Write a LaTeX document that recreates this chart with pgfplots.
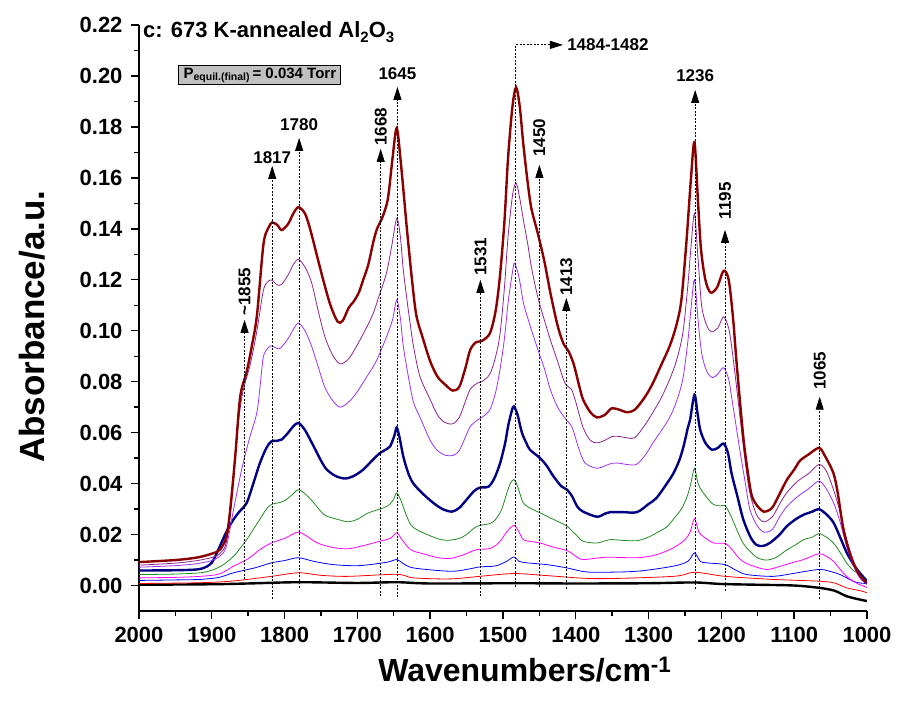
\documentclass[border=0pt]{standalone}
\usepackage{fontspec}
\setmainfont{Liberation Sans}
\usepackage{pgfplots}
\pgfplotsset{compat=1.18}
\usetikzlibrary{arrows.meta}
\definecolor{cDR}{HTML}{8B0000}
\definecolor{cPU}{HTML}{8E238E}
\definecolor{cVI}{HTML}{9B30FF}
\definecolor{cNV}{HTML}{000080}
\definecolor{cGR}{HTML}{228B22}
\definecolor{cMG}{HTML}{FF00FF}
\definecolor{cBL}{HTML}{0000FF}
\definecolor{cRD}{HTML}{FF0000}
\definecolor{boxgray}{HTML}{C0C0C0}

\tikzset{
  dotl/.style={black, line width=0.8bp, dash pattern=on 2bp off 1.5bp},
  arr/.style={dotl, -{Triangle[length=13bp,width=8bp]}},
  lab/.style={font=\bfseries\fontsize{17bp}{17bp}\selectfont, inner sep=0pt},
}
\newcommand{\lowsub}[1]{\raisebox{-0.45ex}{\fontsize{15bp}{15bp}\selectfont #1}}

\begin{document}
\begin{tikzpicture}
\useasboundingbox (-139bp,-98bp) rectangle (759bp,611bp);
\begin{axis}[
  at={(0,0)}, anchor=south west,
  scale only axis, width=728bp, height=586bp,
  x dir=reverse,
  xmin=1000, xmax=2000, ymin=-0.01, ymax=0.22,
  axis x line*=bottom, axis y line*=left,
  axis line style={line width=1.6bp, -},
  xtick={1000,1100,...,2000}, minor x tick num=1,
  ytick={0,0.02,...,0.22}, minor y tick num=1,
  tick align=outside,
  major tick length=8bp, minor tick length=5bp,
  tick style={line width=1.4bp, black},
  /pgf/number format/assume math mode=true,
  yticklabel style={xshift=-5bp, /pgf/number format/.cd, fixed, fixed zerofill, precision=2},
  xticklabel style={yshift=-5bp, /pgf/number format/.cd, set thousands separator={}},
  tick label style={font=\bfseries\fontsize{22bp}{22bp}\selectfont},
  xlabel={Wavenumbers/cm\textsuperscript{-1}},
  ylabel={Absorbance/a.u.},
  xlabel style={font=\bfseries\fontsize{32bp}{32bp}\selectfont, at={(axis description cs:0.53,-0.1007)}, anchor=center},
  ylabel style={font=\bfseries\fontsize{35bp}{35bp}\selectfont, at={(axis description cs:-0.147,0.485)}, anchor=center, rotate=0},
  clip mode=individual,
]
% black
\addplot[black, line width=2.4bp, smooth] coordinates {
(2000,0.0003) (1900,0.0005) (1850,0.0008) (1781,0.0013) (1700,0.001) (1646,0.0013) (1600,0.0008) (1485,0.0009) (1400,0.0008) (1300,0.0009) (1237,0.0012) (1200,0.0006) (1150,0.0003) (1100,0.0) (1066,-0.0009) (1045,-0.002) (1028,-0.0042) (1010,-0.0055) (1000,-0.0061)
};
% red
\addplot[cRD, line width=0.8bp, smooth] coordinates {
(2000,0.0008) (1916,0.0011) (1870,0.0018) (1818,0.0036) (1781,0.005) (1750,0.004) (1713,0.0036) (1646,0.0044) (1623,0.003) (1573,0.0026) (1532,0.0036) (1485,0.0047) (1440,0.0039) (1371,0.0027) (1266,0.0036) (1237,0.0052) (1195,0.0036) (1129,0.0024) (1066,0.0017) (1045,0.001) (1028,-0.0009) (1010,-0.002) (1000,-0.0028)
};
% blue
\addplot[cBL, line width=0.8bp, smooth] coordinates {
(2000,0.002) (1950,0.0022) (1916,0.0024) (1890,0.0032) (1870,0.005) (1840,0.007) (1818,0.0089) (1800,0.0098) (1781,0.0109) (1760,0.0095) (1733,0.0082) (1698,0.0078) (1660,0.0091) (1646,0.0102) (1638,0.0088) (1623,0.0069) (1573,0.0056) (1550,0.0063) (1532,0.0073) (1510,0.0077) (1495,0.0095) (1485,0.0112) (1478,0.0095) (1467,0.0089) (1440,0.0082) (1412,0.0069) (1390,0.0055) (1371,0.0052) (1316,0.0056) (1266,0.0076) (1246,0.0095) (1237,0.0128) (1229,0.0095) (1220,0.0089) (1195,0.0082) (1180,0.006) (1165,0.0043) (1129,0.0036) (1100,0.0048) (1066,0.0063) (1050,0.0055) (1037,0.0043) (1019,0.0017) (1010,0.001) (1000,0.0008)
};
% magenta
\addplot[cMG, line width=0.8bp, smooth] coordinates {
(2000,0.003) (1950,0.0032) (1916,0.0036) (1890,0.0045) (1870,0.0076) (1850,0.0105) (1834,0.0141) (1818,0.0167) (1800,0.0185) (1790,0.020) (1781,0.021) (1770,0.0195) (1755,0.0167) (1735,0.015) (1713,0.0144) (1690,0.0158) (1669,0.0174) (1655,0.0185) (1646,0.0207) (1640,0.0185) (1627,0.0141) (1610,0.0125) (1590,0.011) (1573,0.0106) (1555,0.012) (1536,0.0141) (1518,0.0145) (1505,0.017) (1495,0.021) (1485,0.0236) (1478,0.021) (1472,0.018) (1460,0.0172) (1449,0.0167) (1430,0.015) (1412,0.0137) (1400,0.0115) (1390,0.0102) (1358,0.0111) (1316,0.0109) (1290,0.012) (1266,0.0148) (1250,0.018) (1243,0.021) (1237,0.0262) (1231,0.021) (1225,0.0193) (1211,0.0167) (1195,0.0165) (1185,0.014) (1174,0.0102) (1160,0.008) (1138,0.0063) (1120,0.0075) (1100,0.0092) (1087,0.0102) (1066,0.0125) (1056,0.0115) (1046,0.0095) (1036,0.006) (1028,0.0036) (1015,0.001) (1000,-0.0008)
};
% green
\addplot[cGR, line width=0.8bp, smooth] coordinates {
(2000,0.0043) (1950,0.0045) (1916,0.005) (1900,0.006) (1885,0.008) (1870,0.0115) (1860,0.015) (1852,0.018) (1843,0.022) (1834,0.026) (1825,0.030) (1818,0.0318) (1802,0.033) (1790,0.0355) (1781,0.0376) (1770,0.0355) (1760,0.0325) (1750,0.029) (1742,0.0272) (1725,0.0258) (1713,0.025) (1700,0.026) (1685,0.0285) (1664,0.0305) (1655,0.032) (1650,0.034) (1646,0.0364) (1641,0.034) (1634,0.0285) (1627,0.024) (1619,0.022) (1600,0.0195) (1585,0.018) (1573,0.0178) (1560,0.0185) (1550,0.020) (1540,0.0225) (1532,0.0236) (1518,0.0243) (1510,0.026) (1502,0.0298) (1495,0.036) (1490,0.040) (1485,0.0416) (1480,0.039) (1472,0.0324) (1460,0.030) (1449,0.0285) (1431,0.026) (1420,0.0245) (1412,0.0233) (1400,0.020) (1390,0.0174) (1371,0.0167) (1353,0.018) (1335,0.0177) (1316,0.0176) (1300,0.019) (1289,0.0207) (1275,0.023) (1266,0.026) (1255,0.030) (1247,0.035) (1242,0.040) (1237,0.046) (1232,0.040) (1225,0.0364) (1211,0.0318) (1200,0.0313) (1195,0.0314) (1188,0.028) (1179,0.022) (1170,0.0165) (1161,0.0135) (1150,0.0108) (1138,0.010) (1125,0.011) (1110,0.014) (1098,0.016) (1087,0.018) (1075,0.019) (1066,0.0204) (1056,0.019) (1046,0.0167) (1037,0.013) (1028,0.0089) (1019,0.006) (1010,0.0043) (1000,0.0024)
};
% navy
\addplot[cNV, line width=2.4bp, smooth] coordinates {
(2000,0.0059) (1950,0.006) (1916,0.0065) (1900,0.009) (1889,0.0154) (1880,0.021) (1870,0.026) (1862,0.029) (1852,0.0325) (1843,0.040) (1834,0.048) (1825,0.054) (1818,0.0566) (1810,0.0568) (1804,0.0573) (1795,0.060) (1788,0.0625) (1781,0.0638) (1772,0.061) (1760,0.0546) (1750,0.049) (1742,0.0455) (1730,0.043) (1717,0.042) (1705,0.043) (1692,0.0455) (1680,0.049) (1669,0.052) (1660,0.0535) (1655,0.0546) (1649,0.059) (1646,0.062) (1642,0.058) (1637,0.0507) (1630,0.044) (1623,0.040) (1610,0.036) (1596,0.0325) (1583,0.030) (1570,0.029) (1560,0.0305) (1550,0.0337) (1540,0.037) (1532,0.0384) (1520,0.0388) (1512,0.042) (1504,0.048) (1497,0.056) (1493,0.0625) (1488,0.0685) (1485,0.0703) (1480,0.067) (1474,0.060) (1468,0.056) (1463,0.0533) (1449,0.050) (1440,0.047) (1431,0.043) (1420,0.039) (1412,0.0376) (1405,0.035) (1398,0.031) (1390,0.029) (1371,0.027) (1360,0.0282) (1353,0.0288) (1335,0.0288) (1316,0.0288) (1300,0.032) (1289,0.0344) (1275,0.040) (1266,0.044) (1258,0.049) (1252,0.0546) (1246,0.062) (1243,0.065) (1237,0.0749) (1233,0.068) (1229,0.061) (1222,0.056) (1213,0.0533) (1205,0.054) (1197,0.0557) (1191,0.052) (1186,0.044) (1178,0.035) (1170,0.026) (1160,0.019) (1152,0.016) (1143,0.0155) (1133,0.0168) (1120,0.020) (1110,0.0233) (1098,0.026) (1087,0.0278) (1075,0.029) (1066,0.030) (1056,0.028) (1046,0.0247) (1037,0.019) (1028,0.013) (1019,0.0085) (1010,0.005) (1000,0.0017)
};
% violet
\addplot[cVI, line width=0.8bp, smooth] coordinates {
(2000,0.0072) (1950,0.0078) (1920,0.0086) (1900,0.0098) (1889,0.0115) (1880,0.0153) (1870,0.030) (1863,0.040) (1857,0.048) (1848,0.058) (1838,0.068) (1833,0.080) (1829,0.090) (1822,0.0935) (1817,0.094) (1810,0.093) (1805,0.0933) (1795,0.097) (1788,0.1005) (1781,0.103) (1772,0.100) (1763,0.094) (1754,0.086) (1745,0.078) (1735,0.073) (1724,0.070) (1712,0.072) (1701,0.0757) (1687,0.082) (1678,0.086) (1671,0.090) (1660,0.0976) (1652,0.104) (1646,0.112) (1641,0.105) (1637,0.094) (1630,0.082) (1623,0.072) (1614,0.066) (1600,0.057) (1590,0.053) (1580,0.0512) (1569,0.051) (1560,0.053) (1552,0.058) (1545,0.0624) (1535,0.065) (1529,0.066) (1518,0.069) (1510,0.076) (1504,0.085) (1498,0.097) (1493,0.111) (1487,0.123) (1484,0.1265) (1478,0.121) (1472,0.111) (1466,0.105) (1461,0.1004) (1452,0.0925) (1443,0.085) (1435,0.077) (1425,0.070) (1413,0.065) (1405,0.062) (1395,0.053) (1387,0.048) (1371,0.046) (1360,0.047) (1350,0.048) (1340,0.048) (1330,0.0475) (1317,0.0475) (1305,0.051) (1294,0.056) (1282,0.061) (1271,0.066) (1262,0.072) (1253,0.081) (1246,0.096) (1242,0.108) (1237,0.120) (1232,0.104) (1227,0.091) (1220,0.084) (1212,0.0816) (1205,0.083) (1197,0.0855) (1190,0.081) (1186,0.074) (1180,0.063) (1174,0.052) (1167,0.040) (1161,0.030) (1152,0.024) (1142,0.021) (1130,0.022) (1120,0.027) (1110,0.031) (1095,0.035) (1080,0.038) (1066,0.041) (1056,0.038) (1046,0.0325) (1038,0.026) (1028,0.0153) (1019,0.008) (1010,0.003) (1000,0.0005)
};
% purple
\addplot[cPU, line width=0.8bp, smooth] coordinates {
(2000,0.0080) (1950,0.0088) (1920,0.0098) (1900,0.011) (1889,0.0125) (1880,0.017) (1872,0.035) (1866,0.058) (1858,0.075) (1847,0.087) (1838,0.100) (1829,0.116) (1822,0.1195) (1817,0.1198) (1810,0.118) (1804,0.1182) (1795,0.122) (1788,0.126) (1781,0.128) (1772,0.125) (1763,0.119) (1754,0.108) (1745,0.098) (1735,0.091) (1724,0.087) (1712,0.089) (1701,0.094) (1687,0.1015) (1678,0.107) (1671,0.113) (1660,0.1227) (1653,0.133) (1646,0.144) (1641,0.137) (1637,0.124) (1630,0.108) (1623,0.094) (1614,0.082) (1600,0.073) (1590,0.067) (1580,0.064) (1569,0.0635) (1560,0.066) (1552,0.072) (1545,0.077) (1535,0.0795) (1529,0.080) (1518,0.083) (1510,0.090) (1504,0.099) (1498,0.117) (1493,0.137) (1487,0.153) (1482,0.158) (1477,0.152) (1472,0.1435) (1466,0.134) (1461,0.125) (1452,0.113) (1443,0.104) (1435,0.0965) (1425,0.088) (1415,0.0795) (1406,0.077) (1400,0.072) (1390,0.062) (1380,0.057) (1371,0.056) (1360,0.057) (1350,0.0585) (1340,0.0585) (1330,0.058) (1319,0.058) (1305,0.063) (1294,0.068) (1282,0.074) (1271,0.081) (1262,0.088) (1253,0.099) (1246,0.118) (1242,0.132) (1237,0.146) (1232,0.128) (1227,0.1095) (1220,0.102) (1214,0.0996) (1205,0.101) (1197,0.1055) (1190,0.101) (1186,0.094) (1180,0.080) (1174,0.065) (1167,0.048) (1161,0.0365) (1152,0.028) (1142,0.025) (1130,0.027) (1120,0.032) (1110,0.0365) (1095,0.041) (1080,0.044) (1066,0.0475) (1056,0.045) (1046,0.0376) (1038,0.030) (1028,0.018) (1019,0.010) (1010,0.004) (1000,0.0005)
};
% dark red
\addplot[cDR, line width=2.4bp, smooth] coordinates {
(2000,0.0092) (1950,0.0100) (1920,0.0110) (1900,0.0125) (1889,0.0140) (1880,0.019) (1875,0.029) (1868,0.050) (1861,0.074) (1852,0.084) (1845,0.094) (1838,0.106) (1829,0.134) (1822,0.1405) (1817,0.1425) (1810,0.1415) (1804,0.1395) (1795,0.142) (1788,0.146) (1781,0.1485) (1772,0.146) (1765,0.140) (1756,0.130) (1747,0.120) (1737,0.110) (1727,0.1035) (1720,0.104) (1712,0.109) (1705,0.1115) (1698,0.115) (1692,0.120) (1685,0.126) (1678,0.135) (1673,0.140) (1665,0.145) (1658,0.152) (1652,0.167) (1646,0.1795) (1640,0.165) (1632,0.140) (1625,0.120) (1619,0.106) (1610,0.097) (1600,0.088) (1590,0.082) (1580,0.079) (1569,0.0765) (1560,0.078) (1552,0.085) (1545,0.0925) (1537,0.0955) (1529,0.096) (1518,0.099) (1510,0.108) (1504,0.122) (1498,0.143) (1493,0.168) (1487,0.188) (1482,0.1955) (1477,0.188) (1472,0.173) (1466,0.158) (1461,0.148) (1452,0.138) (1443,0.127) (1435,0.115) (1425,0.102) (1417,0.095) (1410,0.092) (1403,0.087) (1395,0.078) (1390,0.073) (1380,0.068) (1371,0.066) (1360,0.067) (1351,0.0695) (1340,0.069) (1330,0.068) (1319,0.069) (1305,0.074) (1294,0.0795) (1282,0.087) (1271,0.094) (1262,0.102) (1255,0.112) (1248,0.135) (1242,0.159) (1237,0.174) (1232,0.150) (1228,0.132) (1222,0.120) (1215,0.115) (1206,0.117) (1197,0.1235) (1190,0.120) (1184,0.105) (1179,0.087) (1170,0.0585) (1163,0.043) (1158,0.035) (1150,0.031) (1142,0.029) (1135,0.0295) (1129,0.031) (1120,0.036) (1110,0.0415) (1100,0.0455) (1092,0.049) (1080,0.0515) (1066,0.054) (1058,0.051) (1046,0.044) (1040,0.036) (1033,0.023) (1026,0.015) (1019,0.009) (1010,0.004) (1000,0.001)
};
% peak markers
\draw[arr] (axis cs:1855,0.0024) -- (axis cs:1855,0.1043);
\node[lab, rotate=90] at (axis cs:1855,0.1153) {\textasciitilde1855};
\draw[arr] (axis cs:1817,-0.0051) -- (axis cs:1817,0.1647);
\node[lab] at (axis cs:1817,0.1680) {1817};
\draw[arr] (axis cs:1780,-0.0008) -- (axis cs:1780,0.1757);
\node[lab] at (axis cs:1780,0.1808) {1780};
\draw[arr] (axis cs:1668,-0.0043) -- (axis cs:1668,0.1714);
\node[lab, rotate=90] at (axis cs:1668,0.1800) {1668};
\draw[arr] (axis cs:1645,-0.0047) -- (axis cs:1645,0.1957);
\node[lab] at (axis cs:1645,0.2008) {1645};
\draw[arr] (axis cs:1531,-0.0043) -- (axis cs:1531,0.1200);
\node[lab, rotate=90] at (axis cs:1531,0.1290) {1531};
\draw[arr] (axis cs:1483,-0.0004) -- (axis cs:1483,0.2122) -- (axis cs:1417.6,0.2122);
\node[lab, anchor=west] at (axis cs:1412,0.2122) {1484-1482};
\draw[arr] (axis cs:1450,-0.0004) -- (axis cs:1450,0.1651);
\node[lab, rotate=90] at (axis cs:1450,0.1757) {1450};
\draw[arr] (axis cs:1413,-0.0012) -- (axis cs:1413,0.1129);
\node[lab, rotate=90] at (axis cs:1413,0.1212) {1413};
\draw[arr] (axis cs:1236,-0.0012) -- (axis cs:1236,0.1945);
\node[lab] at (axis cs:1236,0.2000) {1236};
\draw[arr] (axis cs:1195,-0.0020) -- (axis cs:1195,0.1396);
\node[lab, rotate=90] at (axis cs:1195,0.1510) {1195};
\draw[arr] (axis cs:1065,-0.0051) -- (axis cs:1065,0.0741);
\node[lab, rotate=90] at (axis cs:1065,0.0843) {1065};
% title and pressure box
\node[anchor=west, inner sep=0pt, font=\bfseries\fontsize{22bp}{22bp}\selectfont]
  at (axis cs:1994.5,0.2172) {c: 673 K-annealed Al\lowsub{2}O\lowsub{3}};
\node[draw=black, line width=0.8bp, fill=boxgray, minimum width=162bp, minimum height=19bp, inner sep=1bp,
  font=\bfseries\fontsize{15bp}{15bp}\selectfont]
  at (axis cs:1834,0.2003) {P\textsubscript{equil.(final)}\,= 0.034 Torr};
\end{axis}
\end{tikzpicture}
\end{document}
